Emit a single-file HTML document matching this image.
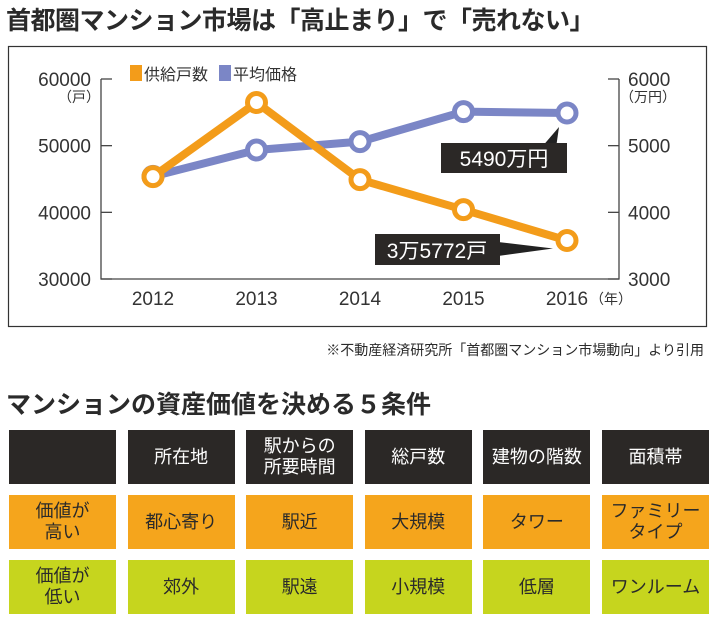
<!DOCTYPE html>
<html><head><meta charset="utf-8"><style>
body{margin:0;width:710px;height:617px;background:#fff;font-family:"Liberation Sans","Noto Sans CJK JP",sans-serif;position:relative;overflow:hidden;color:#2a2a2a}
.t{position:absolute;white-space:nowrap}
.cell{position:absolute;width:107px;height:54px;display:flex;align-items:center;justify-content:center;text-align:center;font-size:18px;line-height:21px}
.h{background:#2b2826;color:#fff}.o{background:#f5a51c}.g{background:#c6d51e}
</style></head><body>
<div class="t" style="left:6px;top:1px;font-size:25px;font-weight:bold;letter-spacing:-0.5px">首都圏マンション市場は「高止まり」で「売れない」</div>
<svg width="710" height="340" style="position:absolute;left:0;top:0" font-family="Liberation Sans, Noto Sans CJK JP, sans-serif">
<rect x="8.5" y="46.5" width="698" height="280" fill="none" stroke="#333" stroke-width="1.2"/>
<g id="axes"></g><g id="lines"></g><g id="callouts"></g>
</svg>
<div class="t" style="right:6px;top:340px;font-size:14px">※不動産経済研究所「首都圏マンション市場動向」より引用</div>
<div class="t" style="left:6px;top:385px;font-size:25px;font-weight:bold">マンションの資産価値を決める５条件</div>
<div id="table"></div>
<script>
const years=['2012','2013','2014','2015','2016'];
const supply=[45350,56478,44900,40400,35772];
const price=[4540,4935,5060,5510,5490];
const leftTicks=[30000,40000,50000,60000];
const rightTicks=[3000,4000,5000,6000];
const NS='http://www.w3.org/2000/svg';
const X=i=>153+i*103.5;
const YL=v=>279-(v-30000)/30000*200;
const YR=v=>279-(v-3000)/3000*200;
function el(p,tag,a,txt){const e=document.createElementNS(NS,tag);for(const k in a)e.setAttribute(k,a[k]);if(txt!==undefined)e.textContent=txt;p.appendChild(e);return e;}
const ax=document.getElementById('axes');
let e=el(ax,'path',{d:'M101 79V279H619V79',fill:'none',stroke:'#444','stroke-width':1.3});

leftTicks.forEach(v=>{el(ax,'line',{x1:101,x2:112,y1:YL(v),y2:YL(v),stroke:'#444','stroke-width':1.3});
 const t=el(ax,'text',{x:91,y:YL(v)+7,'text-anchor':'end','font-size':19,fill:'#333'},v);
 });
rightTicks.forEach(v=>{el(ax,'line',{x1:608,x2:619,y1:YR(v),y2:YR(v),stroke:'#444','stroke-width':1.3});
 const t=el(ax,'text',{x:628,y:YR(v)+7,'font-size':19,fill:'#333'},v);
 });
el(ax,'text',{x:58,y:102,'font-size':14,fill:'#333'},'（戸）');
el(ax,'text',{x:620,y:102,'font-size':14,fill:'#333'},'（万円）');
years.forEach((y,i)=>{const t=el(ax,'text',{x:X(i),y:305,'text-anchor':'middle','font-size':19,fill:'#333'},y);
 });
el(ax,'text',{x:590,y:304,'font-size':14,fill:'#333'},'（年）');
e=el(ax,'rect',{x:130,y:65,width:12,height:16,fill:'#f39c1a'});
el(ax,'text',{x:144,y:80,'font-size':16,fill:'#333'},'供給戸数');
e=el(ax,'rect',{x:219,y:65,width:12,height:16,fill:'#7b86c6'});
el(ax,'text',{x:233,y:80,'font-size':16,fill:'#333'},'平均価格');
const ln=document.getElementById('lines');
function series(vals,Y,col,name){
 const l=el(ln,'polyline',{points:vals.map((v,i)=>X(i)+','+Y(v)).join(' '),fill:'none',stroke:col,'stroke-width':8,'stroke-linejoin':'round'});
 
 vals.forEach((v,i)=>{const c=el(ln,'circle',{cx:X(i),cy:Y(v),r:9,fill:'#fff',stroke:col,'stroke-width':5});
  });
}
series(price,YR,'#7b86c6','price');
series(supply,YL,'#f39c1a','supply');
const co=document.getElementById('callouts');
el(co,'path',{d:`M541 148 L${X(4)-8} ${YR(price[4])+14} L556 148Z`,fill:'#222'});
e=el(co,'rect',{x:441,y:143,width:126,height:30,fill:'#2b2826'});
el(co,'text',{x:504,y:166,'text-anchor':'middle','font-size':21,fill:'#fff'},price[4]+'万円');
el(co,'path',{d:`M498 242 L${X(4)-14} ${YL(supply[4])+8} L498 256Z`,fill:'#222'});
e=el(co,'rect',{x:375,y:234,width:125,height:31,fill:'#2b2826'});
el(co,'text',{x:437,y:258,'text-anchor':'middle','font-size':21,fill:'#fff'},'3万5772戸');
const rows=[['h',['','所在地','駅からの<br>所要時間','総戸数','建物の階数','面積帯']],
['o',['価値が<br>高い','都心寄り','駅近','大規模','タワー','ファミリー<br>タイプ']],
['g',['価値が<br>低い','郊外','駅遠','小規模','低層','ワンルーム']]];
const tb=document.getElementById('table');
rows.forEach((r,ri)=>r[1].forEach((txt,ci)=>{const d=document.createElement('div');
 d.className='cell '+r[0];d.style.left=(9+ci*118.6)+'px';d.style.top=(430+ri*65)+'px';d.innerHTML=txt;
 
 
 tb.appendChild(d);}));
</script>
</body></html>
